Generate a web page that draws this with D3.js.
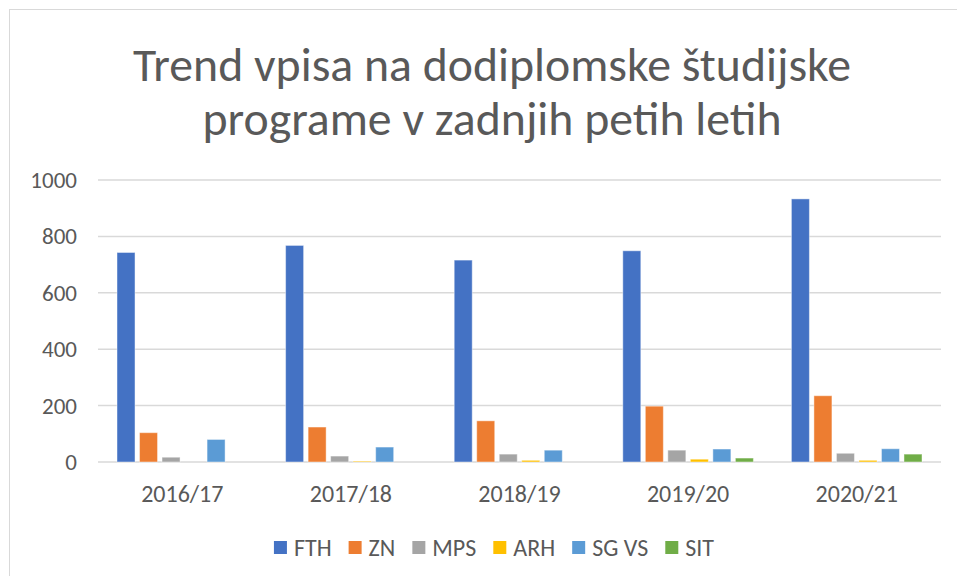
<!DOCTYPE html>
<html>
<head>
<meta charset="utf-8">
<script src="https://cdn.jsdelivr.net/npm/d3@7"></script>
<style>
  body { margin: 0; background: #fff; }
  svg { display: block; }
  text { font-family: Carlito, Calibri, Lato, "Open Sans", sans-serif; fill: #595959; }
</style>
</head>
<body>
<svg id="chart" width="957" height="576"></svg>
<script>
// data
const years = ["2016/17", "2017/18", "2018/19", "2019/20", "2020/21"];
const programs = ["FTH", "ZN", "MPS", "ARH", "SG VS", "SIT"];
const fth = [743, 768, 716, 749, 933];
const zn = [104, 124, 146, 198, 235];
const mps = [17, 21, 28, 42, 31];
const arh = [0, 3, 6, 10, 6];
const sgvs = [80, 53, 42, 46, 47];
const sit = [0, 0, 0, 14, 28];
const yTicks = [0, 200, 400, 600, 800, 1000];
const titleLines = ["Trend vpisa na dodiplomske študijske", "programe v zadnjih petih letih"];
const titleWidths = [718, 579];

const seriesValues = [fth, zn, mps, arh, sgvs, sit];
const colors = ["#4472C4", "#ED7D31", "#A5A5A5", "#FFC000", "#5B9BD5", "#70AD47"];

const svg = d3.select("#chart");

// chart frame
svg.append("rect")
    .attr("x", 9.5).attr("y", 9.5)
    .attr("width", 1000).attr("height", 1000)
    .attr("fill", "none")
    .attr("stroke", "#D9D9D9")
    .attr("stroke-width", 1);

const margin = { left: 98, right: 941, top: 180, bottom: 462 };

const x0 = d3.scaleBand()
    .domain(years)
    .range([margin.left, margin.right])
    .padding(0);

const x1 = d3.scaleBand()
    .domain(programs)
    .range([19, x0.bandwidth() - 19])
    .paddingInner(0.2)
    .paddingOuter(0);

const y = d3.scaleLinear()
    .domain([0, 1000])
    .range([margin.bottom, margin.top]);

const color = d3.scaleOrdinal().domain(programs).range(colors);

// title
svg.append("g").selectAll("text")
    .data(titleLines)
    .join("text")
    .attr("x", 492)
    .attr("y", (d, i) => 81 + i * 54)
    .attr("text-anchor", "middle")
    .attr("font-size", 48)
    .attr("textLength", (d, i) => titleWidths[i])
    .attr("lengthAdjust", "spacingAndGlyphs")
    .text(d => d);

// gridlines
svg.append("g").selectAll("line")
    .data(yTicks)
    .join("line")
    .attr("x1", margin.left)
    .attr("x2", margin.right)
    .attr("y1", d => y(d))
    .attr("y2", d => y(d))
    .attr("stroke", "#D9D9D9")
    .attr("stroke-width", 1.5);

// y labels
svg.append("g").selectAll("text")
    .data(yTicks)
    .join("text")
    .attr("x", 77)
    .attr("y", d => y(d))
    .attr("dy", "0.35em")
    .attr("text-anchor", "end")
    .attr("font-size", 23)
    .text(d => d);

// bars
const rows = [];
years.forEach((yr, i) => {
    programs.forEach((p, j) => {
        rows.push({ year: yr, program: p, value: seriesValues[j][i] });
    });
});

svg.append("g").selectAll("rect")
    .data(rows.filter(d => d.value > 0))
    .join("rect")
    .attr("x", d => x0(d.year) + x1(d.program))
    .attr("y", d => y(d.value))
    .attr("width", x1.bandwidth())
    .attr("height", d => y(0) - y(d.value))
    .attr("fill", d => color(d.program))
    .attr("stroke", "#fff")
    .attr("stroke-opacity", 0.45)
    .attr("stroke-width", 1);

// x labels
svg.append("g").selectAll("text")
    .data(years)
    .join("text")
    .attr("x", d => x0(d) + x0.bandwidth() / 2)
    .attr("y", 502)
    .attr("text-anchor", "middle")
    .attr("font-size", 24)
    .text(d => d);

// legend
const legend = svg.append("g");
const items = legend.selectAll("g")
    .data(programs)
    .join("g");
items.append("rect")
    .attr("width", 13).attr("height", 13)
    .attr("y", 541)
    .attr("fill", d => color(d));
items.append("text")
    .attr("x", 20)
    .attr("y", 556)
    .attr("font-size", 24)
    .text(d => d);

let offset = 0;
const widths = [];
items.each(function() {
    const w = 20 + d3.select(this).select("text").node().getComputedTextLength();
    widths.push(w);
});
const gap = 17;
const total = d3.sum(widths) + gap * (widths.length - 1);
offset = 494 - total / 2;
items.attr("transform", (d, i) => {
    const t = `translate(${offset},0)`;
    offset += widths[i] + gap;
    return t;
});
</script>
</body>
</html>
